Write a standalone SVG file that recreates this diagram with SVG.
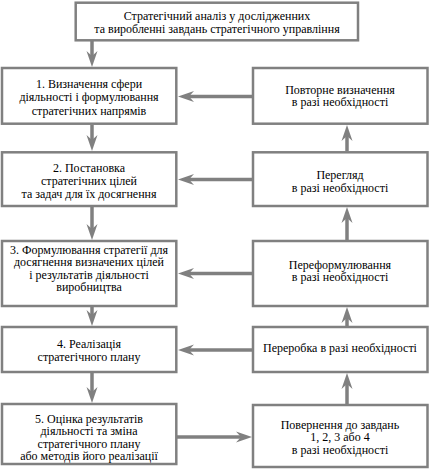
<svg xmlns="http://www.w3.org/2000/svg" width="431" height="473" viewBox="0 0 431 473">
<style>
.box{fill:#fff;stroke:#808080;stroke-width:2.5}
.t{font-size:12px;fill:#000;text-anchor:middle}
.c{stroke:#808080;stroke-width:3.5;fill:none}
</style>
<defs>
<marker id="ah" markerUnits="userSpaceOnUse" markerWidth="20" markerHeight="14" viewBox="-1 -7 20 14" refX="5" refY="0" orient="auto">
<path d="M0,-5.5 L16,0 L0,5.5 L5,0 Z" fill="#808080"/>
</marker>
</defs>
<rect width="431" height="473" fill="#fff"/>
<g id="connectors">
<line class="c" x1="92" y1="41" x2="92" y2="56" marker-end="url(#ah)"/>
<line class="c" x1="92" y1="125" x2="92" y2="140" marker-end="url(#ah)"/>
<line class="c" x1="92" y1="207" x2="92" y2="229" marker-end="url(#ah)"/>
<line class="c" x1="92" y1="307" x2="92" y2="315" marker-end="url(#ah)"/>
<line class="c" x1="92" y1="373" x2="92" y2="392" marker-end="url(#ah)"/>
<line class="c" x1="347" y1="151" x2="347" y2="136" marker-end="url(#ah)"/>
<line class="c" x1="347" y1="240" x2="347" y2="218" marker-end="url(#ah)"/>
<line class="c" x1="347" y1="326" x2="347" y2="318" marker-end="url(#ah)"/>
<line class="c" x1="347" y1="404" x2="347" y2="384" marker-end="url(#ah)"/>
<line class="c" x1="252" y1="96.5" x2="189" y2="96.5" marker-end="url(#ah)"/>
<line class="c" x1="252" y1="179.5" x2="189" y2="179.5" marker-end="url(#ah)"/>
<line class="c" x1="252" y1="273.5" x2="189" y2="273.5" marker-end="url(#ah)"/>
<line class="c" x1="252" y1="350" x2="189" y2="350" marker-end="url(#ah)"/>
<line class="c" x1="177" y1="437" x2="241" y2="437" marker-end="url(#ah)"/>
</g>
<g font-family="Liberation Serif, Times New Roman, serif">
<g id="top">
<rect class="box" x="75.7" y="2.7" width="282.3" height="37.6"/>
<text class="t" x="217" y="20">Стратегічний аналіз у дослідженних</text>
<text class="t" x="217" y="33.3">та виробленні завдань стратегічного управління</text>
</g>
<g id="n1">
<rect class="box" x="2" y="68" width="174.3" height="55.7"/>
<text class="t" x="89" y="88">1. Визначення сфери</text>
<text class="t" x="89" y="101.3">діяльності і формулювання</text>
<text class="t" x="89" y="114.6">стратегічних напрямів</text>
</g>
<g id="n2">
<rect class="box" x="2" y="152.3" width="174.3" height="53.7"/>
<text class="t" x="89" y="171.5">2. Постановка</text>
<text class="t" x="89" y="184.5">стратегічних цілей</text>
<text class="t" x="89" y="197.5">та задач для їх досягнення</text>
</g>
<g id="n3">
<rect class="box" x="2" y="241" width="174.3" height="65"/>
<text class="t" x="89" y="253.5">3. Формулювання стратегії для</text>
<text class="t" x="89" y="266">досягнення визначених цілей</text>
<text class="t" x="89" y="278.5">і результатів діяльності</text>
<text class="t" x="89" y="291">виробництва</text>
</g>
<g id="n4">
<rect class="box" x="2" y="327" width="174.3" height="45"/>
<text class="t" x="89" y="348">4. Реалізація</text>
<text class="t" x="89" y="361">стратегічного плану</text>
</g>
<g id="n5">
<rect class="box" x="2" y="404" width="174.3" height="60"/>
<text class="t" x="89" y="422.5">5. Оцінка результатів</text>
<text class="t" x="89" y="435">діяльності та зміна</text>
<text class="t" x="89" y="447.5">стратегічного плану</text>
<text class="t" x="89" y="460">або методів його реалізації</text>
</g>
<g id="r1">
<rect class="box" x="253" y="68" width="174.5" height="55.7"/>
<text class="t" x="340" y="93.5">Повторне визначення</text>
<text class="t" x="340" y="106">в разі необхідності</text>
</g>
<g id="r2">
<rect class="box" x="253" y="152.3" width="174.5" height="53.7"/>
<text class="t" x="340" y="179">Перегляд</text>
<text class="t" x="340" y="191.5">в разі необхідності</text>
</g>
<g id="r3">
<rect class="box" x="253" y="241" width="174.5" height="65"/>
<text class="t" x="340" y="268.5">Переформулювання</text>
<text class="t" x="340" y="281">в разі необхідності</text>
</g>
<g id="r4">
<rect class="box" x="253" y="327" width="174.5" height="45"/>
<text class="t" x="340" y="352.3">Переробка в разі необхідності</text>
</g>
<g id="r5">
<rect class="box" x="253" y="405" width="174.5" height="62"/>
<text class="t" x="340" y="428.5">Повернення до завдань</text>
<text class="t" x="340" y="441">1, 2, 3  або 4</text>
<text class="t" x="340" y="453.5">в разі необхідності</text>
</g>
</g>
</svg>
